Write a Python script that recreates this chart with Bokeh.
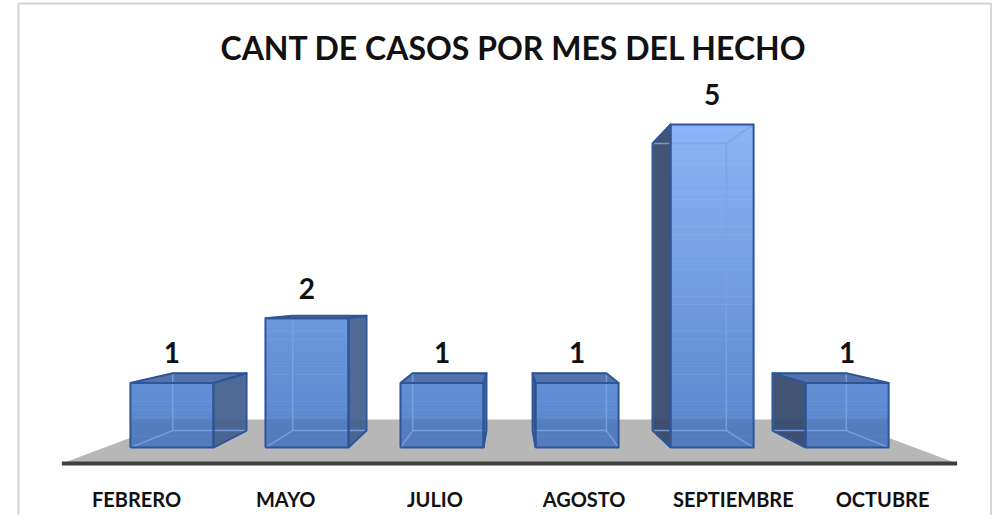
import numpy as np
from bokeh.plotting import figure
from bokeh.models import Range1d
from bokeh.core.properties import value
from bokeh.embed import file_html
from bokeh.resources import INLINE

# ---------------- data ----------------
categories = ["FEBRERO", "MAYO", "JULIO", "AGOSTO", "SEPTIEMBRE", "OCTUBRE"]
cases = [1, 2, 1, 1, 5, 1]
title_text = "CANT DE CASOS POR MES DEL HECHO"

# ---------------- projection / style ----------------
# world units: x = category slot, y = number of cases (at floor front plane)
VPX, VPY = 3.0, 2.353          # vanishing point
S_FRONT, S_BACK = 0.905, 0.804  # depth scale of bar front / back faces
FLOOR_FRONT, FLOOR_BACK = 1.0, 0.738
HALF_W = 0.3076
GRAD_TOP = 5.0

FONT = "Lato"
BOTTOM_RGB = np.array([88, 132, 204])
TOP_RGB = np.array([139, 181, 248])


def proj(x, y, s):
    return VPX + s * (x - VPX), VPY + s * (y - VPY)


def hexc(rgb):
    r, g, b = [int(round(c)) for c in rgb]
    return "#%02x%02x%02x" % (r, g, b)


n = len(categories)
centers = [i + 0.5 for i in range(n)]

p = figure(width=992, height=515, output_backend="svg", toolbar_location=None,
           x_range=Range1d(-0.4115, 6.237), y_range=Range1d(-0.728, 6.4846),
           x_axis_location=None, y_axis_location=None, min_border=0,
           background_fill_color="white", border_fill_color="white")
p.grid.visible = False
p.outline_line_color = None

# chart border
bx0, bx1, by0, by1 = -0.291, 6.228, -0.8, 6.442
p.line([bx0, bx0, bx1, bx1], [by0, by1, by1, by0], line_color="#d3d3d3", line_width=2)

# ---------------- floor ----------------
fl_l, fl_r = 0.0, float(n)
f_fl = proj(fl_l, 0, FLOOR_FRONT)
f_fr = proj(fl_r, 0, FLOOR_FRONT)
f_br = proj(fl_r, 0, FLOOR_BACK)
f_bl = proj(fl_l, 0, FLOOR_BACK)
p.patch([f_fl[0], f_fr[0], f_br[0], f_bl[0]], [f_fl[1], f_fr[1], f_br[1], f_bl[1]],
        fill_color="#b7b7b7", line_color=None)
p.line([f_fl[0], f_fr[0]], [f_fl[1], f_fr[1]], line_color="#404040", line_width=4)

floor_back_y = f_bl[1]
# value at which the floor back edge crosses the bar front plane
v_floor = VPY + (floor_back_y - VPY) / S_FRONT

side_xs, side_ys, side_col = [], [], []
top_xs, top_ys = [], []
q_l, q_r, q_b, q_t, q_c = [], [], [], [], []
light_xs, light_ys = [], []
dark_xs, dark_ys = [], []
lab_x, lab_y, lab_t = [], [], []

for cx, v in zip(centers, cases):
    xl, xr = cx - HALF_W, cx + HALF_W
    F = {k: proj(x, y, S_FRONT) for k, (x, y) in
         {"bl": (xl, 0), "br": (xr, 0), "tl": (xl, v), "tr": (xr, v)}.items()}
    B = {k: proj(x, y, S_BACK) for k, (x, y) in
         {"bl": (xl, 0), "br": (xr, 0), "tl": (xl, v), "tr": (xr, v)}.items()}

    # visible side face
    if cx < VPX:
        side = [F["br"], F["tr"], B["tr"], B["br"]]
        side_col.append("#425f8e")
    else:
        side = [F["bl"], F["tl"], B["tl"], B["bl"]]
        side_col.append("#33476b")
    side_xs.append([pt[0] for pt in side])
    side_ys.append([pt[1] for pt in side])

    top_visible = v < VPY
    if top_visible:
        top = [F["tl"], F["tr"], B["tr"], B["tl"]]
        top_xs.append([pt[0] for pt in top])
        top_ys.append([pt[1] for pt in top])

    # front face, gradient strips
    edges = list(np.linspace(0, v, int(v * 24) + 1))
    if 0 < v_floor < v:
        edges.append(v_floor)
    edges = sorted(set(edges))
    for a, b in zip(edges[:-1], edges[1:]):
        m = 0.5 * (a + b)
        t = min(m / GRAD_TOP, 1.0)
        rgb = BOTTOM_RGB + t * (TOP_RGB - BOTTOM_RGB)
        if m < v_floor:
            rgb = rgb * 0.93
        _, yb = proj(xl, a, S_FRONT)
        _, yt = proj(xl, min(b + 0.01, v), S_FRONT)
        q_l.append(F["bl"][0]); q_r.append(F["br"][0])
        q_b.append(yb); q_t.append(yt); q_c.append(hexc(rgb))

    # all edges (seen through the transparent solid)
    pairs = [("bl", "br"), ("br", "tr"), ("tr", "tl"), ("tl", "bl")]
    for a, b in pairs:
        light_xs.append([B[a][0], B[b][0]]); light_ys.append([B[a][1], B[b][1]])
    for k in ["bl", "br", "tl", "tr"]:
        light_xs.append([F[k][0], B[k][0]]); light_ys.append([F[k][1], B[k][1]])

    # visible outline
    dark_xs.append([F["bl"][0], F["br"][0], F["tr"][0], F["tl"][0], F["bl"][0]])
    dark_ys.append([F["bl"][1], F["br"][1], F["tr"][1], F["tl"][1], F["bl"][1]])
    dark_xs.append(side_xs[-1] + [side_xs[-1][0]])
    dark_ys.append(side_ys[-1] + [side_ys[-1][0]])
    if top_visible:
        dark_xs.append(top_xs[-1] + [top_xs[-1][0]])
        dark_ys.append(top_ys[-1] + [top_ys[-1][0]])

    tx, ty = proj(cx, v, S_FRONT)
    lab_x.append(tx); lab_y.append(ty + 0.42); lab_t.append(str(v))

p.patches(side_xs, side_ys, fill_color=side_col, fill_alpha=0.93, line_color=None)
if top_xs:
    p.patches(top_xs, top_ys, fill_color="#4a6ca8", fill_alpha=0.95, line_color=None)
p.quad(left=q_l, right=q_r, bottom=q_b, top=q_t, fill_color=q_c, line_color=None)
p.multi_line(light_xs, light_ys, line_color="#7aa3e8", line_alpha=0.85, line_width=1.5)
p.multi_line(dark_xs, dark_ys, line_color="#2f5597", line_width=2, line_join="round")

# value labels
p.text(x=lab_x, y=lab_y, text=lab_t, text_font=value(FONT), text_font_style="bold",
       text_font_size="28px", text_align="center", text_baseline="alphabetic",
       text_color="#111111")

# category labels
cat_y = [-0.49] * n
p.text(x=centers, y=cat_y, text=categories, text_font=value(FONT), text_font_style="bold",
       text_font_size="20px", text_align="center", text_baseline="alphabetic",
       text_color="#111111")

# title
p.text(x=[3.03], y=[5.82], text=[title_text], text_font=value(FONT), text_font_style="bold",
       text_font_size="32px", text_align="center", text_baseline="alphabetic",
       text_color="#111111")

open("out.html", "w").write(file_html(p, INLINE))
